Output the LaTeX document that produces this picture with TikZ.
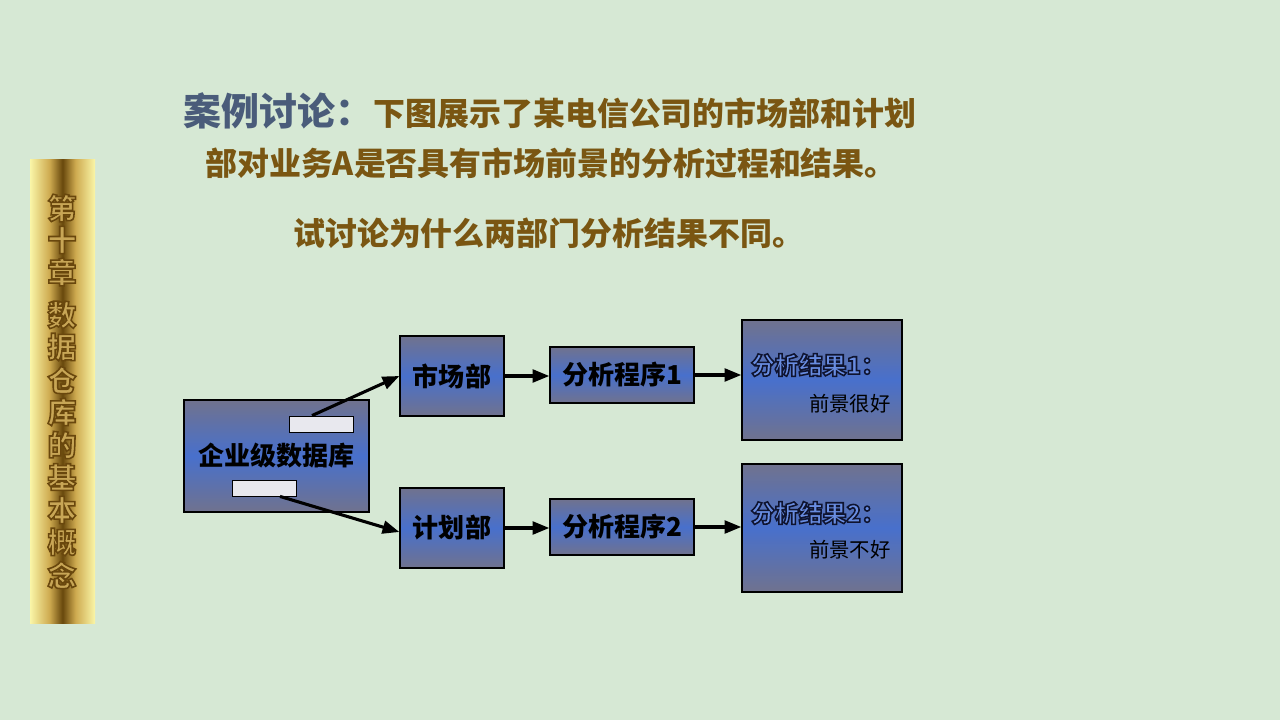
\documentclass[tikz,border=0pt]{standalone}
\usepackage{fontspec}
\usepackage{tikz}
\usetikzlibrary{positioning,arrows.meta}

\newfontfamily\cjk{Noto Sans CJK SC}

% glyphs filled with the text colour and stroked with #1
\newcommand\hollow[3]{\special{pdf:literal direct 2 Tr #2 w #1 RG}#3\special{pdf:literal direct 0 Tr 0.4 w}}

\definecolor{bgcol}{RGB}{214,232,212}
\definecolor{slate}{RGB}{74,92,122}
\definecolor{titlebrown}{RGB}{122,86,18}
\definecolor{boxgray}{RGB}{112,114,142}
\definecolor{boxblue}{RGB}{72,112,204}
\definecolor{slotgray}{RGB}{232,232,238}
\definecolor{hollowblue}{RGB}{104,140,224}
\definecolor{paleyellow}{RGB}{250,246,168}
\definecolor{barbrown}{RGB}{104,72,12}
\definecolor{bargold}{RGB}{206,170,80}
\definecolor{sidefill}{RGB}{200,166,86}

\pgfdeclarehorizontalshading{goldbar}{100bp}{color(0bp)=(paleyellow); color(25bp)=(paleyellow); color(40bp)=(bargold); color(50bp)=(barbrown); color(60bp)=(bargold); color(75bp)=(paleyellow); color(100bp)=(paleyellow)}

\tikzset{
  dept/.style={draw=black, line width=0.9pt, top color=boxgray, bottom color=boxgray,
    middle color=boxblue, inner sep=0pt, text=black,
    font=\cjk\bfseries\fontsize{18.5}{20}\selectfont},
  slot/.style={draw=black, line width=0.6pt, fill=slotgray, inner sep=0pt,
    minimum width=1.6cm, minimum height=0.4cm},
  link/.style={line width=2.2pt, -{Triangle[length=0.42cm,width=0.32cm]}},
  headline/.style={inner sep=0pt, text=titlebrown, font=\cjk\bfseries\fontsize{22.7}{26}\selectfont},
  restitle/.style={inner sep=0pt, text=hollowblue, font=\cjk\bfseries\fontsize{17}{20}\selectfont},
  resnote/.style={inner sep=0pt, text=black, font=\cjk\fontsize{14.5}{17}\selectfont},
  sidechar/.style={inner sep=0pt, text=sidefill, font=\cjk\bfseries\fontsize{20.5}{22}\selectfont}
}

\begin{document}
\begin{tikzpicture}[x=0.025cm,y=-0.025cm]
  \useasboundingbox (0,0) rectangle (1280,720);
  \fill [bgcol] (0,0) rectangle (1280,720);

  % side bar
  \shade [shading=goldbar] (30,160) rectangle (95,623);
  \foreach \ch/\yy [count=\i] in {第/208,十/240,章/272,数/315,据/347,仓/380,库/412,的/445,基/477,本/510,概/542,念/575} {
    \node [sidechar] (side\i) at (62,\yy) {\hollow{0.41 0.28 0.05}{1.1}{\ch}};
  }

  % heading
  \node [headline, text=slate, font=\cjk\bfseries\fontsize{27}{30}\selectfont, anchor=west] (head1) at (183,111) {案例讨论：};
  \node [headline, anchor=base west] (head2) at (head1.base east) {下图展示了某电信公司的市场部和计划};
  \node [headline, anchor=west] (head3) at (205,163) {部对业务A是否具有市场前景的分析过程和结果。};
  \node [headline, anchor=west] (head4) at (293,233) {试讨论为什么两部门分析结果不同。};

  % boxes
  \node [dept, minimum width=4.625cm, minimum height=2.8cm] (db) at (276.5,456) {企业级数据库};
  \node [slot] (dbtop) at (321,424) {};
  \node [slot] (dbbot) at (264,488) {};
  \node [dept, minimum width=2.6cm, minimum height=2cm] (mkt) at (452,376) {市场部};
  \node [dept, minimum width=2.6cm, minimum height=2cm] (plan) at (452,528) {计划部};
  \node [dept, minimum width=3.6cm, minimum height=1.4cm] (prog1) at (622,375) {分析程序1};
  \node [dept, minimum width=3.6cm, minimum height=1.4cm] (prog2) at (622,527) {分析程序2};
  \node [dept, minimum width=4cm, minimum height=3cm] (res1) at (822,380) {};
  \node [dept, minimum width=4cm, minimum height=3.2cm] (res2) at (822,528) {};

  % result texts
  \node [restitle] (res1a) at (818,365) {\hollow{0.06 0.08 0.19}{1.1}{分析结果1：}};
  \node [resnote, anchor=east] (res1b) at (891,404) {前景很好};
  \node [restitle] (res2a) at (818,513) {\hollow{0.06 0.08 0.19}{1.1}{分析结果2：}};
  \node [resnote, anchor=east] (res2b) at (891,550) {前景不好};

  % arrows
  \draw [link] ([xshift=-0.225cm]dbtop.north) -- (mkt.west);
  \draw [link] ([xshift=0.4cm]dbbot.south) -- ([yshift=-0.1cm]plan.west);
  \draw [link] (mkt.east) -- (mkt.east -| prog1.west);
  \draw [link] (plan.east) -- (plan.east -| prog2.west);
  \draw [link] (prog1.east) -- (prog1.east -| res1.west);
  \draw [link] (prog2.east) -- (prog2.east -| res2.west);
\end{tikzpicture}
\end{document}
